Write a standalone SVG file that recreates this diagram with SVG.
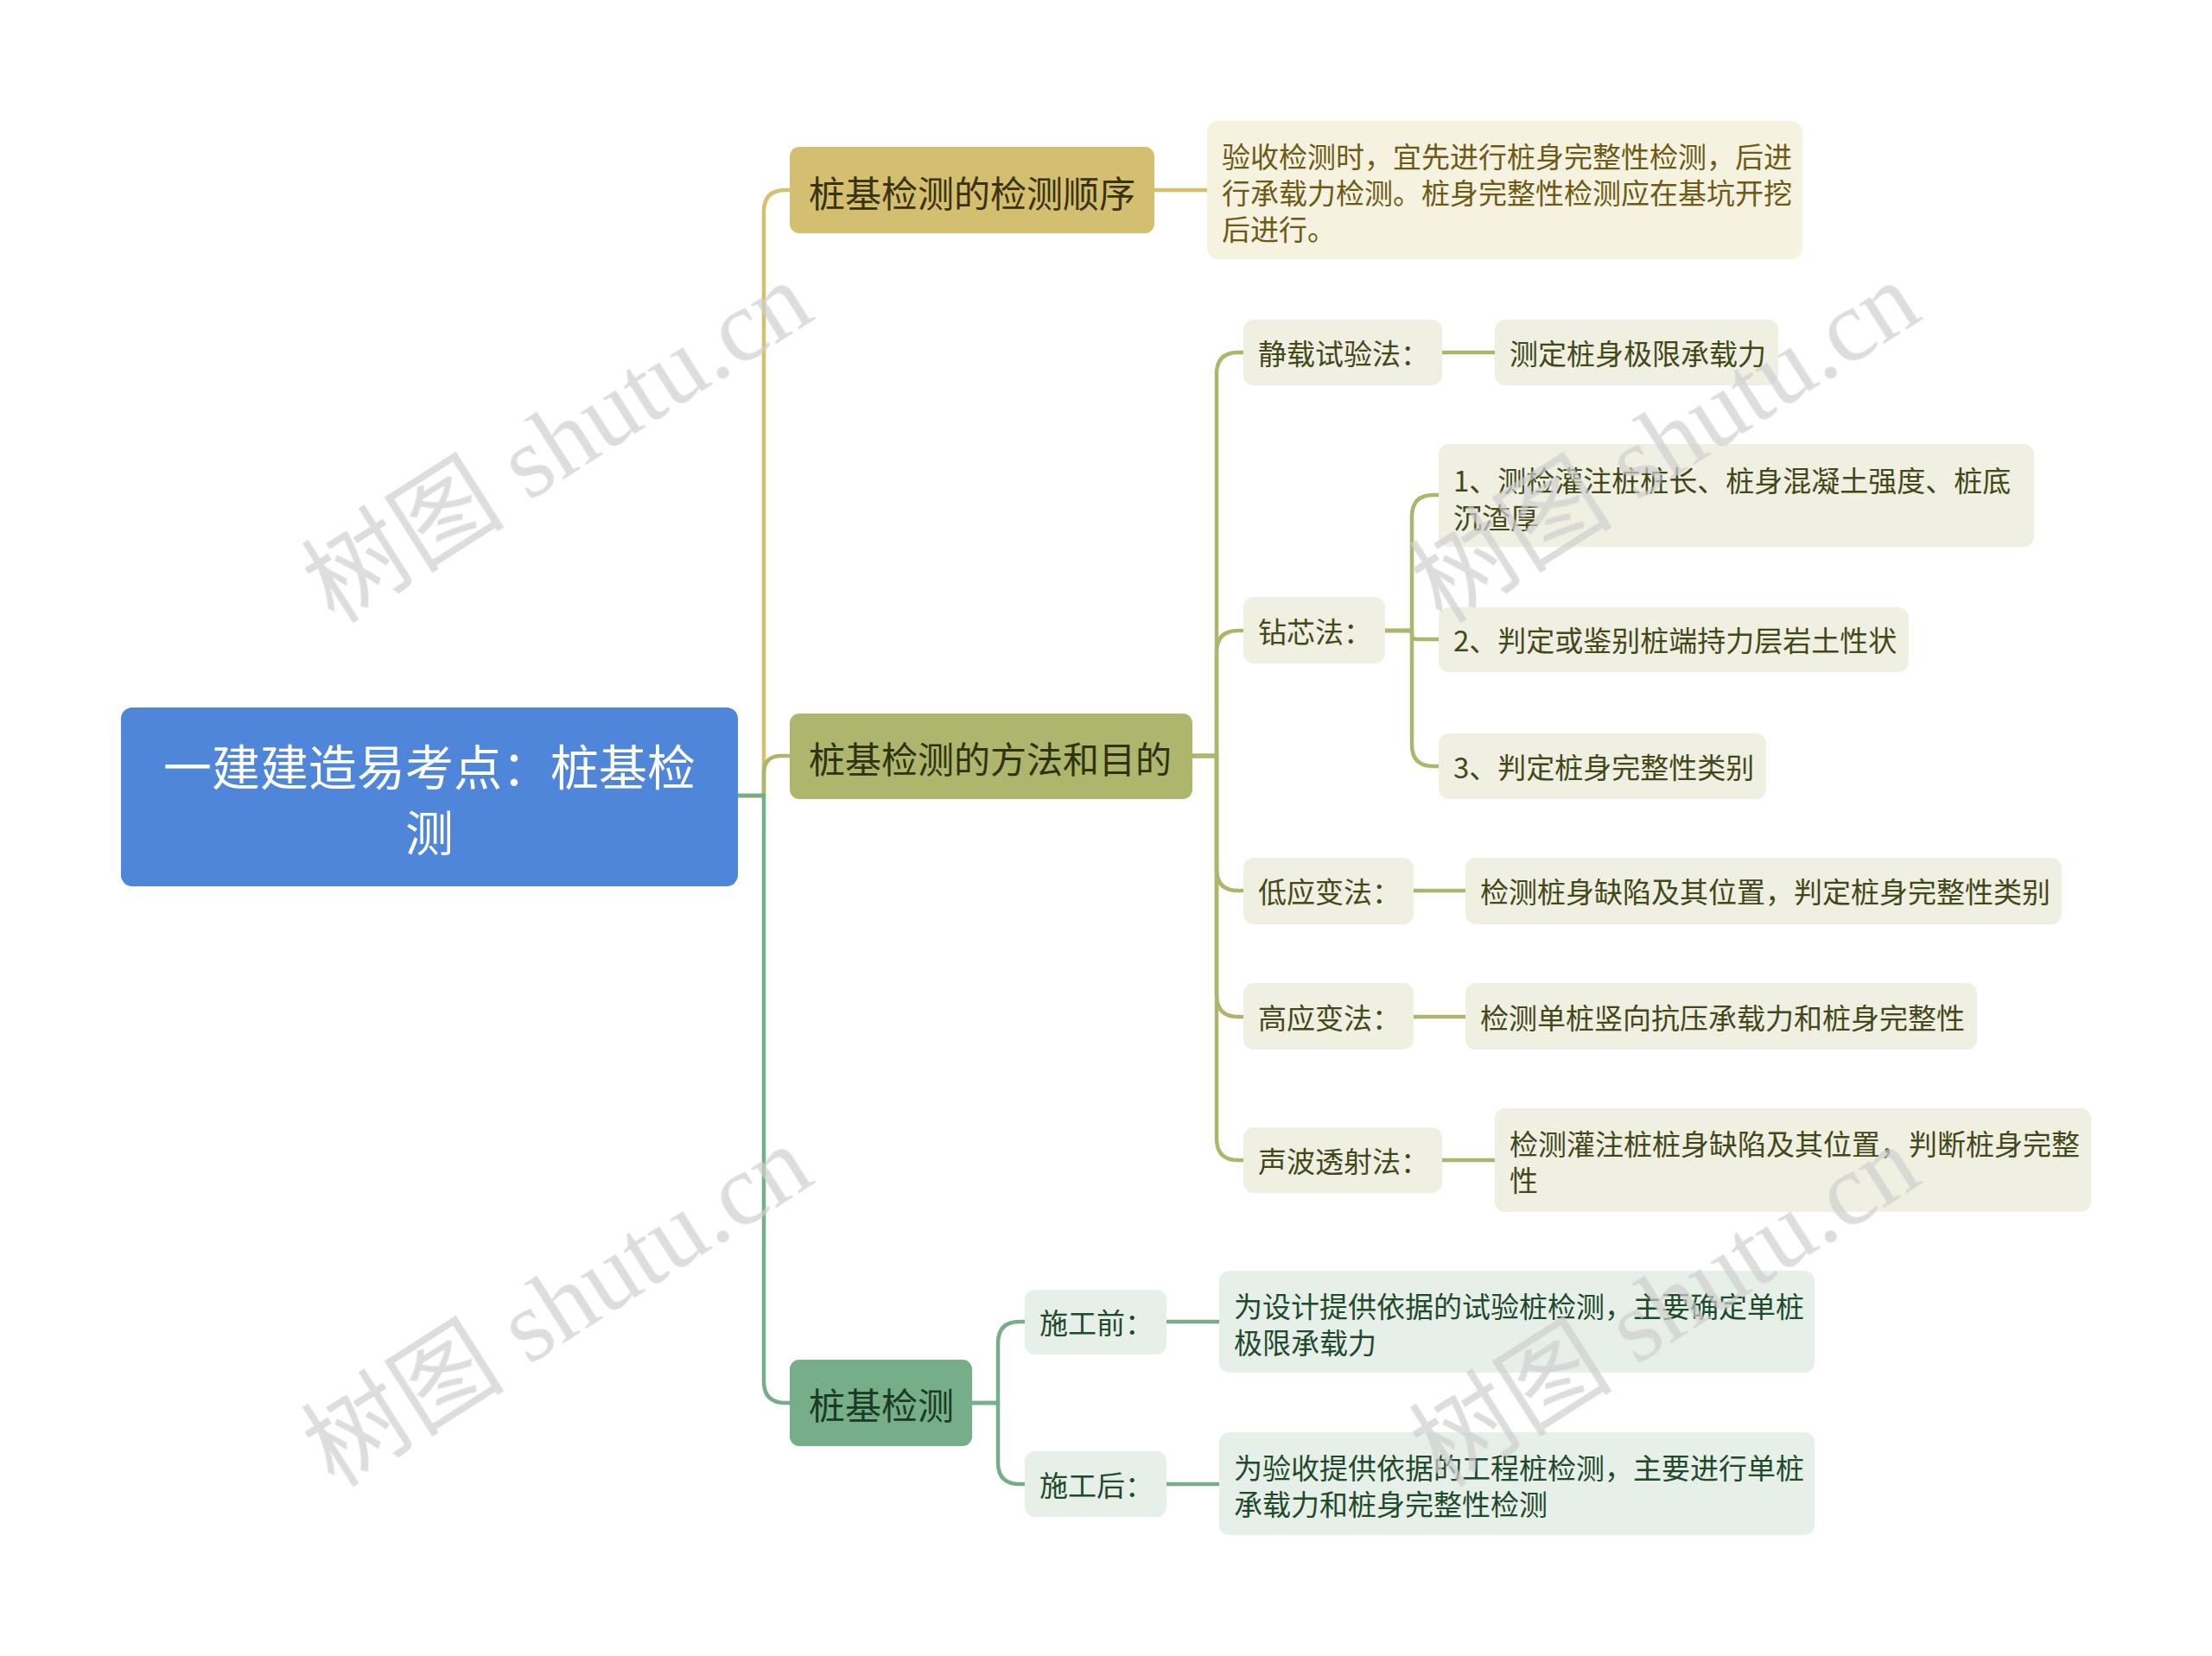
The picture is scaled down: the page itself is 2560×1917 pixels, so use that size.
<svg xmlns="http://www.w3.org/2000/svg" width="2560" height="1917" viewBox="0 0 2560 1917">
<style>
text{font-family:"Noto Sans CJK SC","Liberation Sans",sans-serif;dominant-baseline:central}
.c{fill:none;stroke-width:4.5;stroke-linejoin:round}
.y{stroke:#d5bf70}.o{stroke:#aeb56d}.g{stroke:#75ae88}
.root{fill:#4f86d9}
.l1a{fill:#d4be6f}.l1b{fill:#aeb56d}.l1c{fill:#75ae88}
.da{fill:#f5f2df}.db{fill:#efefe2}.dc{fill:#e6efe8}
.t0{font-size:56px;fill:#ffffff;text-anchor:middle}
.t1{font-size:42px}
.ta{fill:#3a3210}.tb{fill:#2e3311}.tc{fill:#1b3a24}
.t2{font-size:33px}
.sa{fill:#6e5a16}.sb{fill:#434818}.sc{fill:#1f4a2b}
.wm{font-family:"Liberation Serif","Noto Sans CJK SC",serif;font-size:118px;fill:#cfcfcf;text-anchor:middle}
</style>
<rect width="2560" height="1917" fill="#ffffff"/>
<g id="connectors">
<path class="c y" d="M854 921 H884 V245 Q884 220 909 220 H914"/>
<path class="c o" d="M854 921 H884 V895 Q884 875 904 875 H914"/>
<path class="c g" d="M854 921 H884 V1599 Q884 1624 909 1624 H914"/>
<path class="c y" d="M1336 220 H1397"/>
<path class="c o" d="M1380 875 H1408 V433 Q1408 408 1433 408 H1439"/>
<path class="c o" d="M1380 875 H1408 V755 Q1408 730 1433 730 H1439"/>
<path class="c o" d="M1380 875 H1408 V1006 Q1408 1031 1433 1031 H1439"/>
<path class="c o" d="M1380 875 H1408 V1152 Q1408 1177 1433 1177 H1439"/>
<path class="c o" d="M1380 875 H1408 V1318 Q1408 1343 1433 1343 H1439"/>
<path class="c o" d="M1669 408 H1730"/>
<path class="c o" d="M1603 730 H1634 V598 Q1634 573 1659 573 H1665"/>
<path class="c o" d="M1603 730 H1634 V735 Q1634 740 1639 740 H1665"/>
<path class="c o" d="M1603 730 H1634 V862 Q1634 887 1659 887 H1665"/>
<path class="c o" d="M1636 1031 H1696"/>
<path class="c o" d="M1636 1177 H1696"/>
<path class="c o" d="M1669 1343 H1730"/>
<path class="c g" d="M1125 1624 H1155 V1555 Q1155 1530 1180 1530 H1186"/>
<path class="c g" d="M1125 1624 H1155 V1693 Q1155 1718 1180 1718 H1186"/>
<path class="c g" d="M1350 1530 H1411"/>
<path class="c g" d="M1350 1718 H1411"/>
</g>
<g id="root">
<rect class="root" x="140" y="819" width="714" height="207" rx="13"/>
<text class="t0" x="497" y="884">一建建造易考点：桩基检<tspan x="497" dy="76">测</tspan></text>
</g>
<g id="n-order">
<rect class="l1a" x="914" y="170" width="422" height="100" rx="11"/>
<text class="t1 ta" x="936" y="221">桩基检测的检测顺序</text>
</g>
<g id="n-order-detail">
<rect class="da" x="1397" y="140" width="689" height="160" rx="13"/>
<text class="t2 sa" x="1414" y="180">验收检测时，宜先进行桩身完整性检测，后进<tspan x="1414" dy="42">行承载力检测。桩身完整性检测应在基坑开挖</tspan><tspan x="1414" dy="42">后进行。</tspan></text>
</g>
<g id="n-method">
<rect class="l1b" x="914" y="826" width="466" height="99" rx="11"/>
<text class="t1 tb" x="936" y="876">桩基检测的方法和目的</text>
</g>
<g id="n-static">
<rect class="db" x="1439" y="370" width="230" height="76" rx="12"/>
<text class="t2 sb" x="1456" y="408">静载试验法：</text>
</g>
<g id="n-static-d">
<rect class="db" x="1730" y="370" width="328" height="76" rx="12"/>
<text class="t2 sb" x="1747" y="408">测定桩身极限承载力</text>
</g>
<g id="n-core">
<rect class="db" x="1439" y="691" width="164" height="77" rx="12"/>
<text class="t2 sb" x="1456" y="730">钻芯法：</text>
</g>
<g id="n-core-1">
<rect class="db" x="1665" y="514" width="689" height="119" rx="12"/>
<text class="t2 sb" x="1682" y="555">1、测检灌注桩桩长、桩身混凝土强度、桩底<tspan x="1682" dy="43">沉渣厚</tspan></text>
</g>
<g id="n-core-2">
<rect class="db" x="1665" y="703" width="544" height="75" rx="12"/>
<text class="t2 sb" x="1682" y="740">2、判定或鉴别桩端持力层岩土性状</text>
</g>
<g id="n-core-3">
<rect class="db" x="1665" y="849" width="379" height="76" rx="12"/>
<text class="t2 sb" x="1682" y="887">3、判定桩身完整性类别</text>
</g>
<g id="n-low">
<rect class="db" x="1439" y="993" width="197" height="77" rx="12"/>
<text class="t2 sb" x="1456" y="1031">低应变法：</text>
</g>
<g id="n-low-d">
<rect class="db" x="1696" y="993" width="690" height="77" rx="12"/>
<text class="t2 sb" x="1713" y="1031">检测桩身缺陷及其位置，判定桩身完整性类别</text>
</g>
<g id="n-high">
<rect class="db" x="1439" y="1138" width="197" height="77" rx="12"/>
<text class="t2 sb" x="1456" y="1177">高应变法：</text>
</g>
<g id="n-high-d">
<rect class="db" x="1696" y="1138" width="592" height="77" rx="12"/>
<text class="t2 sb" x="1713" y="1177">检测单桩竖向抗压承载力和桩身完整性</text>
</g>
<g id="n-sonic">
<rect class="db" x="1439" y="1305" width="230" height="76" rx="12"/>
<text class="t2 sb" x="1456" y="1343">声波透射法：</text>
</g>
<g id="n-sonic-d">
<rect class="db" x="1730" y="1283" width="690" height="120" rx="12"/>
<text class="t2 sb" x="1747" y="1323">检测灌注桩桩身缺陷及其位置，判断桩身完整<tspan x="1747" dy="42">性</tspan></text>
</g>
<g id="n-pile">
<rect class="l1c" x="914" y="1574" width="211" height="100" rx="11"/>
<text class="t1 tc" x="936" y="1624">桩基检测</text>
</g>
<g id="n-before">
<rect class="dc" x="1186" y="1493" width="164" height="75" rx="12"/>
<text class="t2 sc" x="1203" y="1530">施工前：</text>
</g>
<g id="n-before-d">
<rect class="dc" x="1411" y="1471" width="689" height="118" rx="12"/>
<text class="t2 sc" x="1428" y="1511">为设计提供依据的试验桩检测，主要确定单桩<tspan x="1428" dy="42">极限承载力</tspan></text>
</g>
<g id="n-after">
<rect class="dc" x="1186" y="1680" width="164" height="76" rx="12"/>
<text class="t2 sc" x="1203" y="1718">施工后：</text>
</g>
<g id="n-after-d">
<rect class="dc" x="1411" y="1658" width="689" height="119" rx="12"/>
<text class="t2 sc" x="1428" y="1698">为验收提供依据的工程桩检测，主要进行单桩<tspan x="1428" dy="42">承载力和桩身完整性检测</tspan></text>
</g>
<g id="watermarks" opacity="0.7">
<text class="wm" transform="translate(645 512) rotate(-32.5)">树图 shutu.cn</text>
<text class="wm" transform="translate(645 1512) rotate(-32.5)">树图 shutu.cn</text>
<text class="wm" transform="translate(1927 512) rotate(-32.5)">树图 shutu.cn</text>
<text class="wm" transform="translate(1927 1512) rotate(-32.5)">树图 shutu.cn</text>
</g>
</svg>
